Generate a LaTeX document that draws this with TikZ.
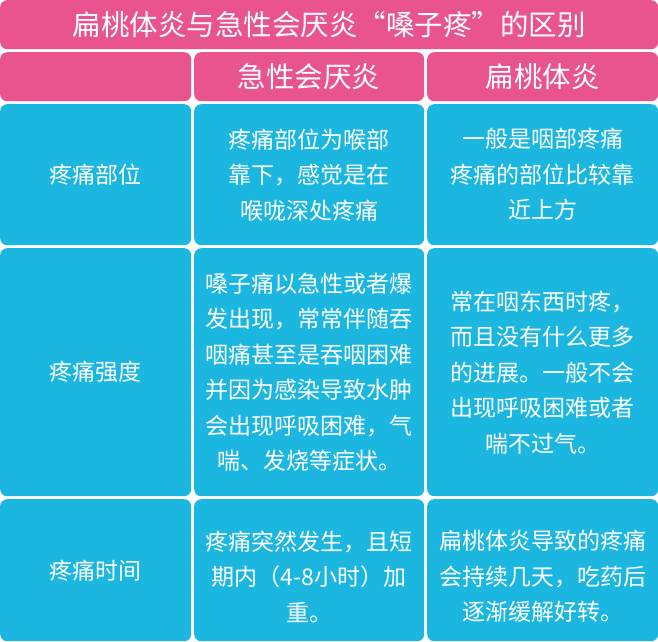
\documentclass[tikz,border=0pt]{standalone}
\usepackage{fontspec}
\newfontfamily\cjk{Noto Sans CJK SC}
\newfontfamily\cjkwide[RawFeature=+fwid]{Noto Sans CJK SC}
\definecolor{rosepink}{RGB}{233,83,142}
\definecolor{skyblue}{RGB}{27,183,225}
\tikzset{
  cell/.style={rounded corners=7pt, inner sep=0pt, text=white, align=center, anchor=north west},
  bigtext/.style={font=\cjkwide\fontsize{28.5}{34}\selectfont},
  smalltext/.style={font=\cjk\fontsize{23}{35.5}\selectfont},
}
\begin{document}
\begin{tikzpicture}[x=1pt,y=-1pt]

\def\HEADCOLOR{rosepink}
\def\BODYCOLOR{skyblue}
	\useasboundingbox (0,0) rectangle (658,641);
	% title and header
	\node[cell,bigtext,fill=\HEADCOLOR,minimum width=658pt,minimum height=49pt] (title) at (0,0) {扁桃体炎与急性会厌炎“嗓子疼”的区别};
	\node[cell,bigtext,fill=\HEADCOLOR,minimum width=191pt,minimum height=49pt] (headA) at (0,52) {};
	\node[cell,bigtext,fill=\HEADCOLOR,minimum width=230pt,minimum height=49pt] (headB) at (194,52) {急性会厌炎};
	\node[cell,bigtext,fill=\HEADCOLOR,minimum width=231pt,minimum height=49pt] (headC) at (427,52) {扁桃体炎};
	% row 1
	\node[cell,smalltext,fill=\BODYCOLOR,minimum width=191pt,minimum height=141pt] (siteA) at (0,104) {疼痛部位};
	\node[cell,smalltext,fill=\BODYCOLOR,minimum width=230pt,minimum height=141pt] (siteB) at (194,104) {疼痛部位为喉部\\靠下，感觉是在\\喉咙深处疼痛};
	\node[cell,smalltext,fill=\BODYCOLOR,minimum width=231pt,minimum height=141pt] (siteC) at (427,104) {一般是咽部疼痛\\疼痛的部位比较靠\\近上方};
	% row 2
	\node[cell,smalltext,fill=\BODYCOLOR,minimum width=191pt,minimum height=248pt] (levelA) at (0,248) {疼痛强度};
	\node[cell,smalltext,fill=\BODYCOLOR,minimum width=230pt,minimum height=248pt] (levelB) at (194,248) {嗓子痛以急性或者爆\\发出现，常常伴随吞\\咽痛甚至是吞咽困难\\并因为感染导致水肿\\会出现呼吸困难，气\\喘、发烧等症状。};
	\node[cell,smalltext,fill=\BODYCOLOR,minimum width=231pt,minimum height=248pt] (levelC) at (427,248) {常在咽东西时疼，\\而且没有什么更多\\的进展。一般不会\\出现呼吸困难或者\\喘不过气。};
	% row 3
	\node[cell,smalltext,fill=\BODYCOLOR,minimum width=191pt,minimum height=142pt] (timeA) at (0,499) {疼痛时间};
	\node[cell,smalltext,fill=\BODYCOLOR,minimum width=230pt,minimum height=142pt] (timeB) at (194,499) {\rule{0pt}{32pt}疼痛突然发生，且短\\期内（4-8小时）加\\重。};
	\node[cell,smalltext,fill=\BODYCOLOR,minimum width=231pt,minimum height=142pt] (timeC) at (427,499) {\rule{0pt}{32pt}扁桃体炎导致的疼痛\\会持续几天，吃药后\\逐渐缓解好转。};

\end{tikzpicture}
\end{document}
